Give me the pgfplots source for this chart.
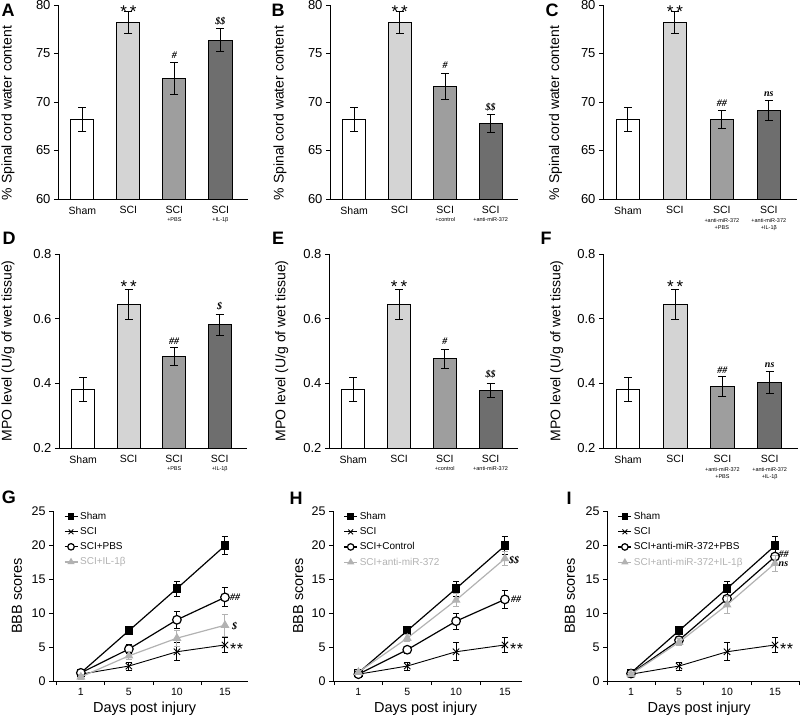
\documentclass[border=0pt]{standalone}
\usepackage{fontspec}
\setmainfont{Liberation Sans}
\newfontfamily\serifit{Liberation Serif}
\usepackage{pgfplots}
\pgfplotsset{compat=1.18}
\definecolor{cB}{HTML}{D4D4D4}
\definecolor{cC}{HTML}{9E9E9E}
\definecolor{cD}{HTML}{6E6E6E}
\definecolor{lg}{HTML}{B2B2B2}
\newcommand\fs[1]{\fontsize{#1}{#1}\selectfont}
\newcommand\sub[1]{{\fs{5.5}#1}}
\newcommand\sig[1]{{\serifit\bfseries\itshape\fs{10}#1}}
\newcommand\stars{{\fs{17}*\hspace{3pt}*}}
\newcommand\lstars{{\fs{16}*\hspace{0.5pt}*}}
\tikzset{
 st/.style={inner sep=0pt, yshift=-3.7pt},
 sg/.style={inner sep=0pt},
}
\pgfplotsset{
 base/.style={scale only axis, axis lines=left, axis line style={-, line width=0.8pt},
   tick align=outside, major tick length=4pt, minor tick length=4pt,
   tick style={black, line width=0.8pt},
   /pgf/number format/assume math mode=true, clip mode=individual},
 barax/.style={base, height=194pt, xmin=-0.53, xmax=3.6, xtick={0,1,2,3},
   xtick style={draw=none}, x tick label style={font=\fs{10.5}, align=center},
   y tick label style={font=\fs{13}}, ylabel style={font=\fs{14}, anchor=center}},
 wat/.style={barax, ymin=60, ymax=80, ytick={60,65,70,75,80}, ylabel={\% Spinal cord water content}},
 mpo/.style={barax, ymin=0.2, ymax=0.8, ytick={0.2,0.4,0.6,0.8},
   yticklabel style={/pgf/number format/fixed, /pgf/number format/fixed zerofill, /pgf/number format/precision=1},
   ylabel={MPO level (U/g of wet tissue)}},
 bars/.style={ybar, bar width=0.5, draw=black, line width=0.8pt,
   error bars/y dir=both, error bars/y explicit,
   error bars/error bar style={line width=1pt, black},
   error bars/error mark options={rotate=90, line width=1pt, black, mark size=4pt}},
 lineax/.style={base, height=170pt, ymin=0, ymax=25, ytick={0,5,10,15,20,25},
   xtick={0,1,2,3}, xticklabels={1,5,10,15}, minor xtick={-0.5,0.5,1.5,2.5,3.5},
   every major x tick/.append style={draw=none},
   x tick label style={font=\fs{10.5}}, y tick label style={font=\fs{12.5}},
   xlabel={Days post injury}, ylabel={BBB scores},
   xlabel style={font=\fs{14.5}, anchor=center}, ylabel style={font=\fs{14.5}, anchor=center},
   legend style={draw=none, fill=none, font=\fs{10}, anchor=north west, at={(0.055,1.005)},
     row sep=2.5pt, inner sep=0pt, cells={anchor=west}},
   legend image code/.code={\draw[mark repeat=2,mark phase=2,every mark/.append style={scale=0.75}]
     plot coordinates {(0pt,0pt) (6.5pt,0pt) (13pt,0pt)};}},
 eb/.style={error bars/y dir=both, error bars/y explicit,
   error bars/error bar style={line width=0.9pt, #1},
   error bars/error mark options={rotate=90, line width=0.9pt, #1, mark size=3pt}},
 sham/.style={black, line width=1.2pt, mark=square*, mark size=3.6pt, mark options={solid, fill=black}, eb=black},
 sci/.style={black, line width=0.9pt, mark=x, mark size=4.5pt, mark options={solid}, eb=black},
 pbs/.style={black, line width=1.2pt, mark=*, mark size=4.3pt, mark options={solid, fill=white, draw=black}, eb=black},
 gry/.style={lg, line width=1.2pt, mark=triangle*, mark size=4pt, mark options={solid, fill=lg, draw=lg}, eb=lg},
}
\begin{document}
\begin{tikzpicture}
\useasboundingbox (0,0) rectangle (800pt,715pt);
% ---------- A ----------
\begin{axis}[wat, at={(58pt,516pt)}, anchor=south west, width=190pt,
  ylabel style={at={(axis description cs:-0.263,0.443)}},
  xticklabels={Sham, SCI, {SCI\\[-3pt]\sub{+PBS}}, {SCI\\[-3pt]\sub{+IL-1β}}}]
\addplot[bars, fill=white] coordinates {(0,68.2) +- (0,1.2)};
\addplot[bars, fill=cB] coordinates {(1,78.2) +- (0,1.1)};
\addplot[bars, fill=cC] coordinates {(2,72.45) +- (0,1.65)};
\addplot[bars, fill=cD] coordinates {(3,76.4) +- (0,1.2)};
\node[st] at (axis cs:1,79.65) {\stars};
\node[sg] at (axis cs:2,74.85) {\sig{\#}};
\node[sg] at (axis cs:3,78.3) {\sig{\$\$}};
\end{axis}
% ---------- B ----------
\begin{axis}[wat, at={(330pt,516pt)}, anchor=south west, width=188pt,
  ylabel style={at={(axis description cs:-0.266,0.443)}},
  xticklabels={Sham, SCI, {SCI\\[-3pt]\sub{+control}}, {SCI\\[-3pt]\sub{+anti-miR-372}}}]
\addplot[bars, fill=white] coordinates {(0,68.2) +- (0,1.2)};
\addplot[bars, fill=cB] coordinates {(1,78.2) +- (0,1.1)};
\addplot[bars, fill=cC] coordinates {(2,71.6) +- (0,1.3)};
\addplot[bars, fill=cD] coordinates {(3,67.8) +- (0,0.95)};
\node[st] at (axis cs:1,79.65) {\stars};
\node[sg] at (axis cs:2,73.8) {\sig{\#}};
\node[sg] at (axis cs:3,69.45) {\sig{\$\$}};
\end{axis}
% ---------- C ----------
\begin{axis}[wat, at={(603pt,516pt)}, anchor=south west, width=194pt,
  ylabel style={at={(axis description cs:-0.245,0.443)}},
  xticklabels={Sham, SCI, {SCI\\[-2pt]\sub{+anti-miR-372}\\[-3.5pt]\sub{+PBS}}, {SCI\\[-2pt]\sub{+anti-miR-372}\\[-3.5pt]\sub{+IL-1β}}}]
\addplot[bars, fill=white] coordinates {(0,68.2) +- (0,1.2)};
\addplot[bars, fill=cB] coordinates {(1,78.2) +- (0,1.1)};
\addplot[bars, fill=cC] coordinates {(2,68.2) +- (0,0.9)};
\addplot[bars, fill=cD] coordinates {(3,69.15) +- (0,1.05)};
\node[st] at (axis cs:1,79.65) {\stars};
\node[sg] at (axis cs:2,69.9) {\sig{\#\#}};
\node[sg] at (axis cs:3,70.8) {\sig{ns}};
\end{axis}
% ---------- D ----------
\begin{axis}[mpo, at={(59pt,267pt)}, anchor=south west, width=188pt,
  ylabel style={at={(axis description cs:-0.271,0.5)}},
  xticklabels={Sham, SCI, {SCI\\[-3pt]\sub{+PBS}}, {SCI\\[-3pt]\sub{+IL-1β}}}]
\addplot[bars, fill=white] coordinates {(0,0.382) +- (0,0.037)};
\addplot[bars, fill=cB] coordinates {(1,0.644) +- (0,0.046)};
\addplot[bars, fill=cC] coordinates {(2,0.483) +- (0,0.027)};
\addplot[bars, fill=cD] coordinates {(3,0.581) +- (0,0.032)};
\node[st] at (axis cs:1,0.709) {\stars};
\node[sg] at (axis cs:2,0.531) {\sig{\#\#}};
\node[sg] at (axis cs:3,0.639) {\sig{\$}};
\end{axis}
% ---------- E ----------
\begin{axis}[mpo, at={(329pt,267pt)}, anchor=south west, width=189pt,
  ylabel style={at={(axis description cs:-0.25,0.5)}},
  xticklabels={Sham, SCI, {SCI\\[-3pt]\sub{+control}}, {SCI\\[-3pt]\sub{+anti-miR-372}}}]
\addplot[bars, fill=white] coordinates {(0,0.382) +- (0,0.037)};
\addplot[bars, fill=cB] coordinates {(1,0.644) +- (0,0.046)};
\addplot[bars, fill=cC] coordinates {(2,0.476) +- (0,0.029)};
\addplot[bars, fill=cD] coordinates {(3,0.378) +- (0,0.022)};
\node[st] at (axis cs:1,0.709) {\stars};
\node[sg] at (axis cs:2,0.53) {\sig{\#}};
\node[sg] at (axis cs:3,0.428) {\sig{\$\$}};
\end{axis}
% ---------- F ----------
\begin{axis}[mpo, at={(603pt,267pt)}, anchor=south west, width=195pt,
  ylabel style={at={(axis description cs:-0.237,0.5)}},
  xticklabels={Sham, SCI, {SCI\\[-2pt]\sub{+anti-miR-372}\\[-3.5pt]\sub{+PBS}}, {SCI\\[-2pt]\sub{+anti-miR-372}\\[-3.5pt]\sub{+IL-1β}}}]
\addplot[bars, fill=white] coordinates {(0,0.382) +- (0,0.037)};
\addplot[bars, fill=cB] coordinates {(1,0.644) +- (0,0.046)};
\addplot[bars, fill=cC] coordinates {(2,0.390) +- (0,0.031)};
\addplot[bars, fill=cD] coordinates {(3,0.403) +- (0,0.033)};
\node[st] at (axis cs:1,0.709) {\stars};
\node[sg] at (axis cs:2,0.44) {\sig{\#\#}};
\node[sg] at (axis cs:3,0.457) {\sig{ns}};
\end{axis}
% ---------- G ----------
\begin{axis}[lineax, at={(53pt,34pt)}, anchor=south west, width=195pt, xmin=-0.58, xmax=3.48,
  ylabel style={at={(axis description cs:-0.185,0.5)}},
  xlabel style={at={(axis description cs:0.47,-0.165)}}]
\addplot[sham] coordinates {(0,1.2) +- (0,0.3) (1,7.4) +- (0,0.4) (2,13.6) +- (0,1.1) (3,19.9) +- (0,1.3)};
\addplot[sci] coordinates {(0,1.0) +- (0,0.3) (1,2.2) +- (0,0.6) (2,4.3) +- (0,1.3) (3,5.3) +- (0,1.1)};
\addplot[pbs] coordinates {(0,1.2) +- (0,0.4) (1,4.7) +- (0,0.7) (2,9.0) +- (0,1.3) (3,12.3) +- (0,1.4)};
\addplot[gry] coordinates {(0,0.6) +- (0,0.3) (1,3.7) +- (0,0.6) (2,6.3) +- (0,1.2) (3,8.2) +- (0,1.6)};
\legend{Sham, SCI, SCI+PBS, \textcolor{lg}{SCI+IL-1β}}
\node[sg, anchor=west, xshift=5pt] at (axis cs:3,12.3) {\sig{\#\#}};
\node[sg, anchor=west, xshift=7pt] at (axis cs:3,8.1) {\sig{\$}};
\node[st, anchor=west, xshift=5pt] at (axis cs:3,5.3) {\lstars};
\end{axis}
% ---------- H ----------
\begin{axis}[lineax, at={(333pt,34pt)}, anchor=south west, width=189pt, xmin=-0.52, xmax=3.35,
  ylabel style={at={(axis description cs:-0.184,0.5)}},
  xlabel style={at={(axis description cs:0.49,-0.165)}}]
\addplot[sham] coordinates {(0,1.2) +- (0,0.3) (1,7.4) +- (0,0.4) (2,13.6) +- (0,1.1) (3,19.9) +- (0,1.3)};
\addplot[sci] coordinates {(0,1.0) +- (0,0.3) (1,2.2) +- (0,0.6) (2,4.3) +- (0,1.3) (3,5.3) +- (0,1.1)};
\addplot[pbs] coordinates {(0,1.0) +- (0,0.4) (1,4.6) +- (0,0.5) (2,8.8) +- (0,1.2) (3,12.0) +- (0,1.3)};
\addplot[gry] coordinates {(0,1.3) +- (0,0.3) (1,6.3) +- (0,0.5) (2,11.9) +- (0,1.0) (3,18.0) +- (0,1.0)};
\legend{Sham, SCI, SCI+Control, \textcolor{lg}{SCI+anti-miR-372}}
\node[sg, anchor=west, xshift=4pt] at (axis cs:3,17.8) {\sig{\$\$}};
\node[sg, anchor=west, xshift=6pt] at (axis cs:3,12.0) {\sig{\#\#}};
\node[st, anchor=west, xshift=5pt] at (axis cs:3,5.3) {\lstars};
\end{axis}
% ---------- I ----------
\begin{axis}[lineax, at={(607pt,34pt)}, anchor=south west, width=192pt, xmin=-0.5, xmax=3.5,
  ylabel style={at={(axis description cs:-0.193,0.5)}},
  xlabel style={at={(axis description cs:0.48,-0.165)}}]
\addplot[sham] coordinates {(0,1.2) +- (0,0.3) (1,7.4) +- (0,0.4) (2,13.6) +- (0,1.1) (3,19.9) +- (0,1.3)};
\addplot[sci] coordinates {(0,1.0) +- (0,0.3) (1,2.2) +- (0,0.6) (2,4.3) +- (0,1.3) (3,5.3) +- (0,1.1)};
\addplot[pbs] coordinates {(0,1.1) +- (0,0.3) (1,6.0) +- (0,0.5) (2,12.1) +- (0,1.0) (3,18.3) +- (0,1.0)};
\addplot[gry] coordinates {(0,1.0) +- (0,0.3) (1,5.7) +- (0,0.5) (2,11.2) +- (0,1.2) (3,17.3) +- (0,1.2)};
\legend{Sham, SCI, SCI+anti-miR-372+PBS, \textcolor{lg}{SCI+anti-miR-372+IL-1β}}
\node[sg, anchor=west, xshift=3.5pt] at (axis cs:3,18.7) {\sig{\#\#}};
\node[sg, anchor=west, xshift=3.5pt] at (axis cs:3,17.2) {\sig{ns}};
\node[st, anchor=west, xshift=5pt] at (axis cs:3,5.3) {\lstars};
\end{axis}
% ---------- panel letters ----------
\begin{scope}[every node/.style={font=\bfseries\fs{18}, inner sep=0pt}]
\node at (8pt,705pt) {A};
\node at (278pt,705pt) {B};
\node at (552pt,705pt) {C};
\node at (9pt,477pt) {D};
\node at (278pt,477pt) {E};
\node at (546pt,477pt) {F};
\node at (9pt,218pt) {G};
\node at (296pt,217pt) {H};
\node at (569pt,216.5pt) {I};
\end{scope}
\end{tikzpicture}
\end{document}
